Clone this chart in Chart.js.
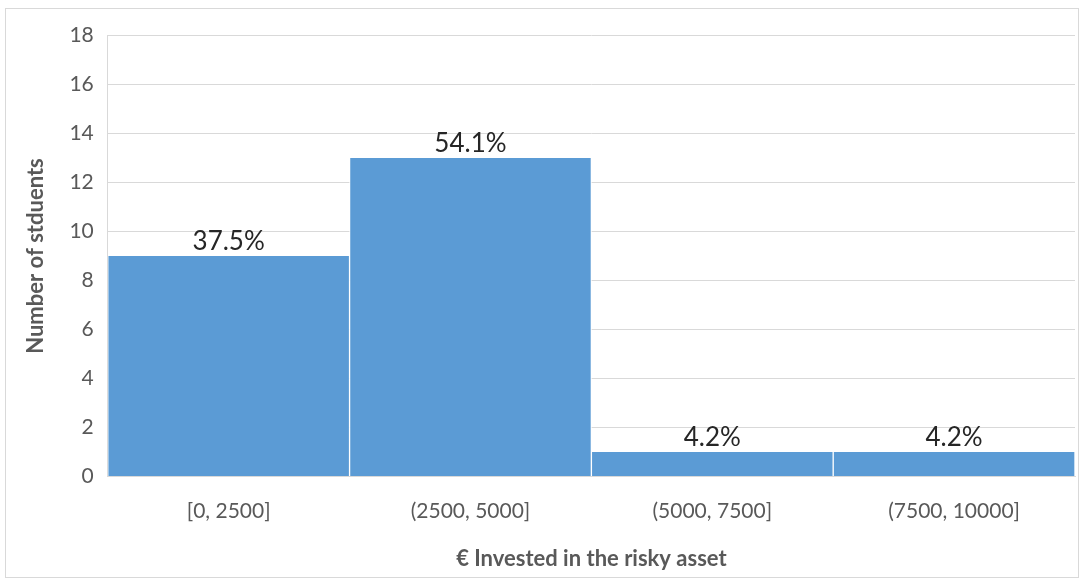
<!DOCTYPE html>
<html>
<head>
<meta charset="utf-8">
<script src="https://cdn.jsdelivr.net/npm/chart.js@4"></script>
<style>
  body { margin: 0; background: #fff; }
  #box {
    position: absolute; left: 5px; top: 8px;
    width: 1074px; height: 570px;
    border: 1px solid #d9d9d9; box-sizing: border-box;
  }
</style>
</head>
<body>
<div id="box"><canvas id="histChart"></canvas></div>
<script>
const bins = ["[0, 2500]", "(2500, 5000]", "(5000, 7500]", "(7500, 10000]"];
const counts = [9, 13, 1, 1];
const shares = ["37.5%", "54.1%", "4.2%", "4.2%"];

const barLabels = {
  id: "barLabels",
  afterDatasetsDraw(chart) {
    const c = chart.ctx;
    const meta = chart.getDatasetMeta(0);
    c.save();
    c.font = "26px Lato";
    c.fillStyle = "#262626";
    c.textAlign = "center";
    c.textBaseline = "bottom";
    meta.data.forEach((bar, i) => {
      c.fillText(shares[i], bar.x, bar.y - 1);
    });
    c.restore();
  },
};

const ctx = document.getElementById("histChart");

new Chart(ctx, {
  type: "bar",
  data: {
    labels: bins,
    datasets: [
      {
        data: counts,
        backgroundColor: "#5b9bd5",
        borderColor: "#ffffff",
        borderWidth: { left: 1, right: 1, top: 0, bottom: 0 },
        borderSkipped: false,
        barPercentage: 1,
        categoryPercentage: 1,
      },
    ],
  },
  options: {
    animation: false,
    maintainAspectRatio: false,
    layout: {
      padding: { top: 25, right: 3, left: 5, bottom: 5 },
    },
    scales: {
      y: {
        min: 0,
        max: 18,
        ticks: {
          stepSize: 2,
          padding: 14,
          color: "#595959",
          font: { family: "Lato", size: 21 },
        },
        grid: { color: "#d9d9d9", drawTicks: false },
        border: { color: "#d9d9d9" },
        title: {
          display: true,
          text: "Number of stduents",
          color: "#595959",
          font: { family: "Lato", size: 22, weight: "bold" },
          padding: { top: 12, bottom: 6 },
        },
      },
      x: {
        ticks: {
          padding: 22,
          color: "#595959",
          font: { family: "Lato", size: 21 },
        },
        grid: { display: false, drawTicks: false },
        border: { color: "#d9d9d9" },
        title: {
          display: true,
          text: "€ Invested in the risky asset",
          color: "#595959",
          font: { family: "Lato", size: 22, weight: "bold" },
          padding: { top: 0, bottom: 0 },
        },
      },
    },
    plugins: {
      legend: { display: false },
      tooltip: { enabled: false },
    },
  },
  plugins: [barLabels],
});
</script>
</body>
</html>
